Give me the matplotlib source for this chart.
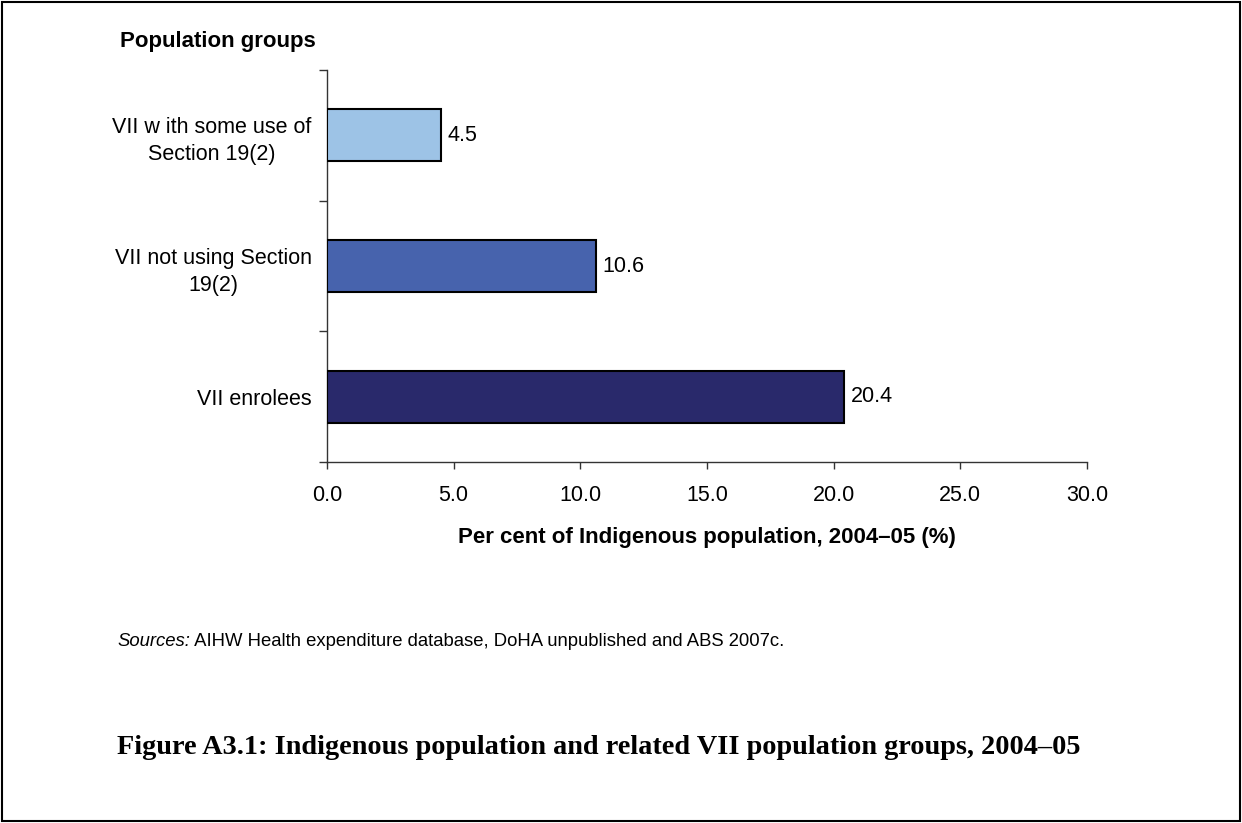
import matplotlib
matplotlib.use("Agg")
import matplotlib.pyplot as plt
from matplotlib.patches import Rectangle

categories = ["VII enrolees", "VII not using Section\n19(2)", "VII w ith some use of\nSection 19(2)"]
values = [20.4, 10.6, 4.5]
value_labels = ["20.4", "10.6", "4.5"]
bar_colors = ["#29296B", "#4763AD", "#9DC3E6"]
x_ticks = [0, 5, 10, 15, 20, 25, 30]
x_tick_labels = ["0.0", "5.0", "10.0", "15.0", "20.0", "25.0", "30.0"]

plt.rcParams['font.family'] = ['Liberation Sans', 'DejaVu Sans']

W, H = 1242, 823
fig = plt.figure(figsize=(W / 100, H / 100), dpi=100)
fig.patch.set_facecolor("white")

ax = fig.add_axes([327 / W, 1 - 462 / H, (1087 - 327) / W, (462 - 70) / H])
y = list(range(len(categories)))
ax.barh(y, values, height=0.4, color=bar_colors, edgecolor="black", linewidth=1.5, zorder=3)
for yi, v, lab in zip(y, values, value_labels):
    ax.annotate(lab, (v, yi), xytext=(5, 0), textcoords="offset points",
                va="center", ha="left", fontsize=15.5)

ax.set_xlim(0, 30)
ax.set_ylim(-0.5, len(categories) - 0.5)
ax.set_xticks(x_ticks)
ax.set_xticklabels(x_tick_labels, fontsize=15.5)
ax.set_yticks(y)
ax.set_yticklabels(categories, fontsize=15.5, multialignment="center", linespacing=1.4)
ax.set_yticks([i - 0.5 for i in range(len(categories) + 1)], minor=True)
ax.tick_params(axis="y", which="major", length=0, pad=11)
ax.tick_params(axis="y", which="minor", length=6, width=1, color="#333333", direction="out")
ax.tick_params(axis="x", which="major", length=5, width=1, color="#333333", direction="out", pad=11.5)
for s in ["top", "right"]:
    ax.spines[s].set_visible(False)
for s in ["left", "bottom"]:
    ax.spines[s].set_color("#333333")
    ax.spines[s].set_linewidth(1)

ax.set_xlabel("Per cent of Indigenous population, 2004\u201305 (%)", fontsize=16,
              fontweight="bold", labelpad=15)

fig.text(120 / W, 1 - 42 / H, "Population groups", fontsize=16, fontweight="bold",
         ha="left", va="center")

t1 = fig.text(117 / W, 1 - 642 / H, "Sources:", fontsize=13.3, style="italic",
              ha="left", va="center")
ax.annotate(" AIHW Health expenditure database, DoHA unpublished and ABS 2007c.",
            xy=(1, 0.5), xycoords=t1, va="center", ha="left", fontsize=13.3,
            annotation_clip=False)

fig.text(117 / W, 1 - 748 / H,
         "Figure A3.1: Indigenous population and related VII population groups, 2004\u201305",
         fontsize=20.3, fontweight="bold", family=["Liberation Serif", "DejaVu Serif"],
         ha="left", va="center")

fig.patches.append(Rectangle((2 / W, 2 / H), 1 - 4 / W, 1 - 4 / H, transform=fig.transFigure,
                             fill=False, edgecolor="black", linewidth=1.5))

fig.savefig("out.png", dpi=100)
